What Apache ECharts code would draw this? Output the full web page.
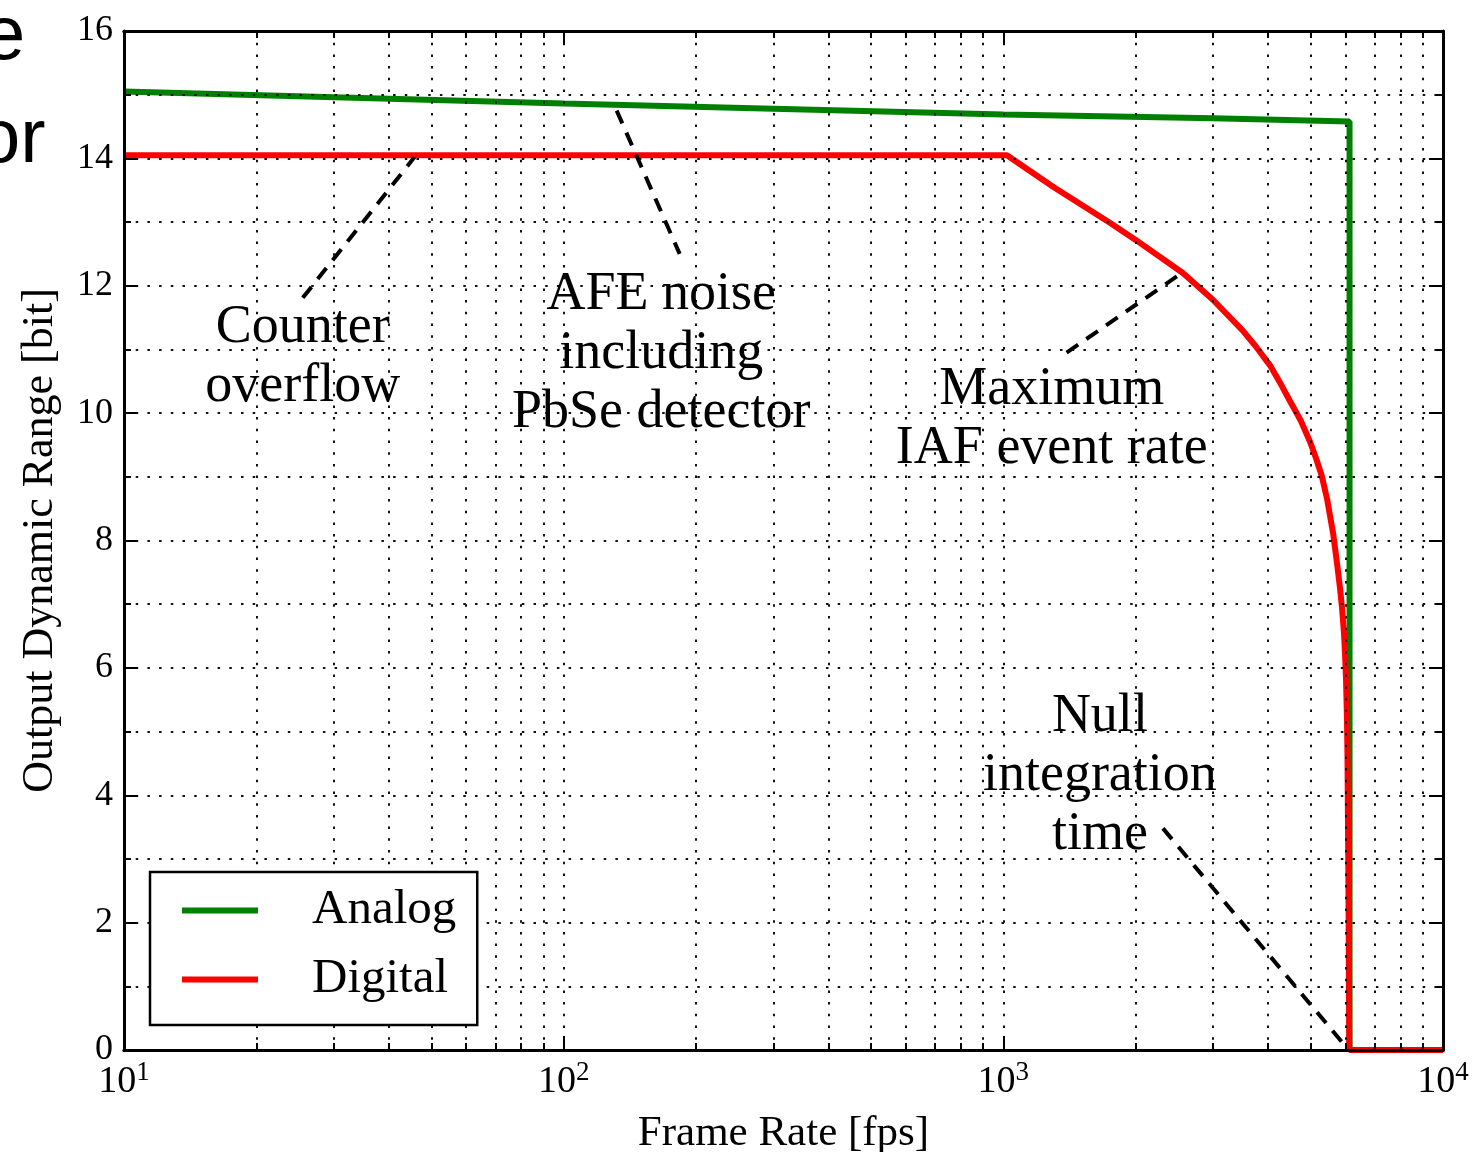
<!DOCTYPE html>
<html>
<head>
<meta charset="utf-8">
<script src="https://cdn.jsdelivr.net/npm/echarts@6/dist/echarts.min.js"></script>
<style>
  html, body { margin: 0; padding: 0; background: #fff; }
  #chart { width: 1475px; height: 1152px; }
</style>
</head>
<body>
<div id="chart"></div>
<script>
// values (frame rate in fps, dynamic range in bit)
var analogFps = [10, 100, 1000, 3000, 6130, 6130, 10000];
var analogBits = [15.05, 14.86, 14.69, 14.63, 14.58, 0, 0];

var digitalFps = [10, 1019, 1300, 1747, 2000, 2561, 2997, 3500, 3750, 4041, 4250, 4486, 4750, 4983, 5150, 5297, 5450, 5628, 5750, 5831, 5892, 5953, 5984, 6016, 6048, 6064, 6096, 6121, 10000];
var digitalBits = [14.05, 14.05, 13.55, 12.99, 12.72, 12.2, 11.78, 11.3, 11.05, 10.75, 10.49, 10.19, 9.88, 9.55, 9.28, 9.02, 8.65, 8.1, 7.6, 7.25, 6.95, 6.55, 6.25, 5.85, 5.2, 4.6, 2.5, 0, 0];

var majorX = [10, 100, 1000, 10000];
var minorX = [20, 30, 40, 50, 60, 70, 80, 90, 200, 300, 400, 500, 600, 700, 800, 900, 2000, 3000, 4000, 5000, 6000, 7000, 8000, 9000];

// annotations: text, anchor (fps, bit), dashed pointer ends
var noteTexts = ['Counter\noverflow', 'AFE noise\nincluding\nPbSe detector', 'Maximum\nIAF event rate', 'Null\nintegration\ntime'];
var noteAt = [[25.5, 10.88], [166.7, 10.93], [1289, 9.9], [1658, 4.31]];
var noteLines = [
	[[25.5, 11.81], [45.8, 14.02]],
	[[132, 14.75], [183.6, 12.5]],
	[[1393, 10.95], [2547, 12.2]],
	[[2307, 3.48], [6050, 0.03]]
];

var serif = 'Liberation Serif';
var dotted = { color: '#111', width: 2, type: [2.5, 9.2] };

function pairs(xs, ys) {
	var out = [];
	for (var i = 0; i < xs.length; i++) {
		out.push([xs[i], ys[i]]);
	}
	return out;
}

function xAxisOf(pos, ticks, len, labels, grid) {
	return {
		type: 'log', logBase: 10, min: 10, max: 10000, position: pos, z: 5,
		axisLine: { show: true, lineStyle: { color: '#000', width: 3 } },
		axisTick: { show: true, inside: true, length: len, customValues: ticks, lineStyle: { color: '#000', width: 2 } },
		axisLabel: labels ? {
			show: true, margin: 9, customValues: majorX,
			formatter: function (v) {
				return '{b|10}{s|' + Math.round(Math.log10(v)) + '}';
			},
			rich: {
				b: { fontFamily: serif, fontSize: 38, color: '#000', lineHeight: 42, verticalAlign: 'bottom' },
				s: { fontFamily: serif, fontSize: 27, color: '#000', lineHeight: 27, verticalAlign: 'top' }
			}
		} : { show: false },
		splitLine: { show: grid, lineStyle: dotted },
		name: (labels ? 'Frame Rate [fps]' : ''),
		nameLocation: 'middle', nameGap: 62,
		nameTextStyle: { fontFamily: serif, fontSize: 43, color: '#000' }
	};
}

function yAxisOf(pos, labels, grid) {
	return {
		type: 'value', min: 0, max: 16, interval: 2, position: pos, z: 5,
		axisLine: { show: true, lineStyle: { color: '#000', width: 3 } },
		axisTick: { show: true, inside: true, length: 14, lineStyle: { color: '#000', width: 2 } },
		minorTick: { show: true, splitNumber: 2, length: 7, lineStyle: { color: '#000', width: 2 } },
		axisLabel: { show: labels, margin: 11, fontFamily: serif, fontSize: 36, color: '#000' },
		splitLine: { show: grid, lineStyle: dotted },
		minorSplitLine: { show: grid, lineStyle: dotted },
		name: (labels ? 'Output Dynamic Range [bit]' : ''),
		nameLocation: 'middle', nameGap: 62,
		nameTextStyle: { fontFamily: serif, fontSize: 44, color: '#000' }
	};
}

var series = [
	{
		name: 'Analog', type: 'line', data: pairs(analogFps, analogBits),
		symbol: 'none', lineStyle: { color: '#008000', width: 6 }, itemStyle: { color: '#008000' },
		z: 2, silent: true
	},
	{
		name: 'Digital', type: 'line', data: pairs(digitalFps, digitalBits),
		symbol: 'none', lineStyle: { color: '#ff0000', width: 6 }, itemStyle: { color: '#ff0000' },
		z: 3, silent: true
	}
];

for (var i = 0; i < noteLines.length; i++) {
	series.push({
		name: 'pointer' + i, type: 'line', data: noteLines[i], symbol: 'none', silent: true, z: 4,
		lineStyle: { color: '#000', width: 4, type: [14, 10] }
	});
}

series.push({
	name: 'notes', type: 'scatter', symbolSize: 0, silent: true, z: 6,
	itemStyle: { opacity: 1 },
	data: noteAt.map(function (p, k) { return { value: p, text: noteTexts[k] }; }),
	label: {
		show: true, position: 'inside', opacity: 1,
		formatter: function (p) { return p.data.text; },
		fontFamily: serif, fontSize: 54, lineHeight: 59, color: '#000', align: 'center',
		textBorderWidth: 0
	}
});

var chart = echarts.init(document.getElementById('chart'), null, { renderer: 'canvas' });
chart.setOption({
	animation: false,
	backgroundColor: '#fff',
	grid: { left: 124, right: 32, top: 31, bottom: 102, containLabel: false, outerBoundsMode: 'none' },
	xAxis: [
		xAxisOf('bottom', majorX, 14, true, true),
		xAxisOf('bottom', minorX, 7, false, true),
		xAxisOf('top', majorX, 14, false, false),
		xAxisOf('top', minorX, 7, false, false)
	],
	yAxis: [
		yAxisOf('left', true, true),
		yAxisOf('right', false, false)
	],
	legend: {
		data: ['Analog', 'Digital'], orient: 'vertical', left: 150, top: 872, z: 10,
		padding: [14, 21, 21, 32], itemWidth: 76, itemHeight: 6, itemGap: 20, icon: 'rect',
		backgroundColor: '#fff', borderColor: '#000', borderWidth: 2.5, borderRadius: 0,
		selectedMode: false,
		formatter: function (name) { return '{t|' + name + '}'; },
		textStyle: {
			rich: { t: { fontFamily: serif, fontSize: 49, color: '#000', padding: [0, 0, 0, 49] } }
		}
	},
	graphic: [
		{ type: 'text', left: -17, top: 0, style: { text: 'e', font: '76px "Liberation Sans"', fill: '#000' } },
		{ type: 'text', left: -22, top: 103, style: { text: 'or', font: '76px "Liberation Sans"', fill: '#000' } }
	],
	series: series
});
</script>
</body>
</html>
